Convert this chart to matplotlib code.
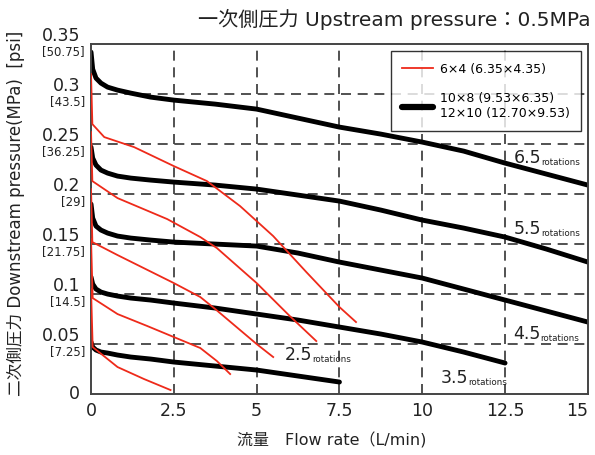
import numpy as np
import matplotlib.pyplot as plt
from matplotlib.lines import Line2D

plt.rcParams['font.family'] = ['DejaVu Sans', 'Noto Sans CJK JP']

# 10x8 / 12x10 tubes (black), by needle rotations
xb = [0, 0.05, 0.15, 0.3, 0.5, 0.8, 1.2, 1.8, 2.5, 3.75, 5, 6.25, 7.5, 8.75, 10, 11.25, 12.5, 13.75, 15]
b65 = [0.342, 0.325, 0.316, 0.311, 0.307, 0.304, 0.301, 0.297, 0.294, 0.290, 0.285, 0.276, 0.267, 0.260, 0.252, 0.243, 0.231, 0.220, 0.209]
b55 = [0.247, 0.236, 0.229, 0.224, 0.221, 0.218, 0.216, 0.214, 0.212, 0.209, 0.205, 0.199, 0.193, 0.184, 0.174, 0.166, 0.157, 0.145, 0.132]
b45 = [0.190, 0.176, 0.168, 0.164, 0.161, 0.158, 0.156, 0.154, 0.152, 0.150, 0.148, 0.141, 0.132, 0.124, 0.116, 0.105, 0.094, 0.083, 0.072]
b35 = [0.117, 0.110, 0.105, 0.102, 0.100, 0.098, 0.096, 0.094, 0.091, 0.086, 0.080, 0.074, 0.067, 0.060, 0.052, 0.042, 0.031]
b25 = [0.052, 0.047, 0.044, 0.042, 0.041, 0.039, 0.037, 0.035, 0.032, 0.028, 0.024, 0.018, 0.012]

# 6x4 tube (red)
r1x = [0, 0.04, 0.4, 1.3, 2.5, 3.5, 4.5, 5.5, 6.5, 7.5, 8.0]
r1y = [0.320, 0.270, 0.257, 0.247, 0.228, 0.213, 0.188, 0.158, 0.122, 0.087, 0.072]
r2x = [0, 0.04, 0.8, 2.3, 3.3, 3.8, 5.0, 6.0, 6.8]
r2y = [0.262, 0.213, 0.196, 0.175, 0.157, 0.146, 0.111, 0.078, 0.053]
r3x = [0, 0.04, 0.8, 2.5, 3.3, 3.75, 5.0, 5.5]
r3y = [0.205, 0.152, 0.139, 0.111, 0.097, 0.085, 0.050, 0.037]
r4x = [0, 0.05, 0.8, 1.7, 2.5, 3.3, 3.8, 4.2]
r4y = [0.155, 0.096, 0.080, 0.068, 0.057, 0.046, 0.033, 0.020]
r5x = [0, 0.05, 0.8, 1.6, 2.4]
r5y = [0.105, 0.047, 0.027, 0.015, 0.004]

yticks = [0.35, 0.3, 0.25, 0.2, 0.15, 0.1, 0.05]
ylabels = ['0.35', '0.3', '0.25', '0.2', '0.15', '0.1', '0.05']
psi = ['[50.75]', '[43.5]', '[36.25]', '[29]', '[21.75]', '[14.5]', '[7.25]']
xticks = [0, 2.5, 5, 7.5, 10, 12.5, 15]
xlabels = ['0', '2.5', '5', '7.5', '10', '12.5', '15']

# rotation labels: (number, x, y)
rot = [('6.5', 12.75, 0.231), ('5.5', 12.75, 0.160), ('4.5', 12.75, 0.055),
       ('2.5', 5.86, 0.034), ('3.5', 10.55, 0.011)]

fig = plt.figure(figsize=(5.95, 4.55), dpi=100)
ax = fig.add_axes([0.153, 0.134, 0.835, 0.769])

for xg in xticks[1:-1]:
    ax.axvline(xg, color='#333333', lw=1.2, ls=(0, (6, 4)), zorder=1)
for yg in yticks[1:]:
    ax.axhline(yg, color='#333333', lw=1.2, ls=(0, (6, 4)), zorder=1)

for yy in [b65, b55, b45, b35, b25]:
    ax.plot(xb[:len(yy)], yy, color='black', lw=3.5, solid_capstyle='round',
            solid_joinstyle='round', zorder=2)
for rx, ry in [(r1x, r1y), (r2x, r2y), (r3x, r3y), (r4x, r4y), (r5x, r5y)]:
    ax.plot(rx, ry, color='#ee2a1a', lw=1.3, solid_joinstyle='round', zorder=3)

ax.set_xlim(0, 15)
ax.set_ylim(0, 0.35)
ax.set_xticks(xticks)
ax.set_xticklabels(xlabels, fontsize=12.5, color='#222222')
ax.get_xticklabels()[-1].set_horizontalalignment('right')
ax.set_yticks([])
ax.tick_params(length=0, pad=6)
for s in ax.spines.values():
    s.set_color('#444444')
    s.set_linewidth(1.4)

tr = ax.get_yaxis_transform()
for v, lab, p in zip(yticks, ylabels, psi):
    ax.text(-0.022, v - 0.001, lab, transform=tr, ha='right', va='bottom', fontsize=12.5, color='#222222')
    ax.text(-0.012, v - 0.001, p, transform=tr, ha='right', va='top', fontsize=8.5, color='#222222')
ax.text(-0.022, 0, '0', transform=tr, ha='right', va='center', fontsize=12.5, color='#222222')

for num, rx_, ry_ in rot:
    t = ax.text(rx_, ry_, num, fontsize=12.5, color='#222222', ha='left', va='baseline', zorder=4)
    ax.annotate('rotations', xy=(1, 0), xycoords=t, fontsize=6.3, color='#222222',
                ha='left', va='bottom', zorder=4)

handles = [Line2D([], [], color='#ee2a1a', lw=1.3),
           Line2D([], [], color='black', lw=4.5, solid_capstyle='round')]
leg = ax.legend(handles, ['6×4 (6.35×4.35)', '10×8 (9.53×6.35)\n12×10 (12.70×9.53)'],
                loc='upper right', bbox_to_anchor=(0.993, 0.99), fontsize=9, frameon=True,
                fancybox=False, edgecolor='black', handlelength=2.5, labelspacing=1.3,
                borderpad=0.9, handletextpad=0.5, borderaxespad=0.3)
leg.get_frame().set_linewidth(1.0)
leg.set_zorder(5)

fig.text(0.992, 0.958, '一次側圧力 Upstream pressure：0.5MPa', ha='right', va='center',
         fontsize=14.5, color='#222222')
fig.text(0.557, 0.033, '流量　Flow rate（L/min)', ha='center', va='center', fontsize=11.5, color='#222222')
fig.text(0.027, 0.53, '二次側圧力 Downstream pressure(MPa)  [psi]', rotation=90,
         ha='center', va='center', fontsize=12, color='#222222')

fig.savefig('out.png', dpi=100)
